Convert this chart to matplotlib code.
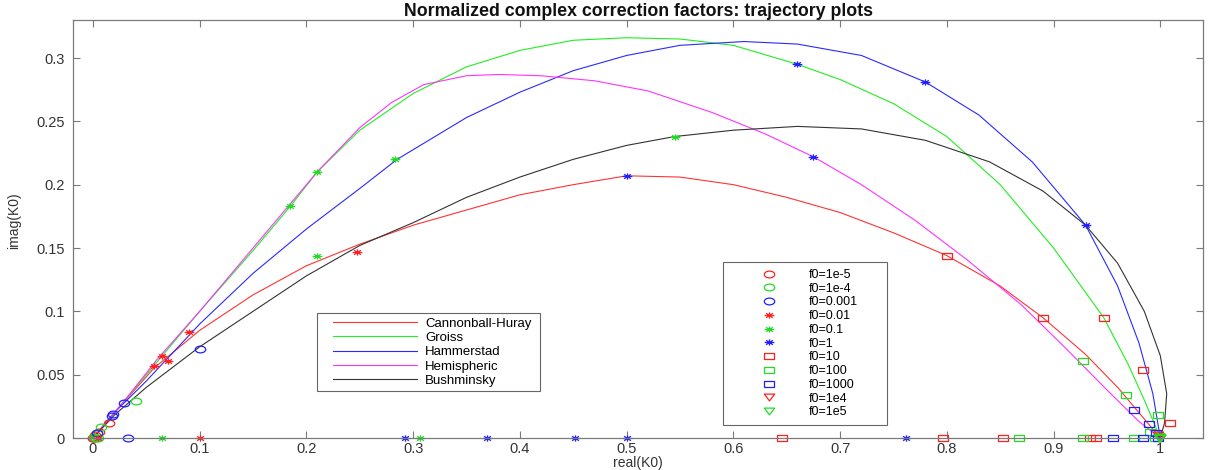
import matplotlib
matplotlib.use("Agg")
import matplotlib.pyplot as plt
import numpy as np
from matplotlib.path import Path
from matplotlib.legend_handler import HandlerLine2D

plt.rcParams['font.family'] = ['Liberation Sans', 'DejaVu Sans']

# ---- model trajectories (real, imag) ----
cannon_x = [0, 0.02, 0.057, 0.1, 0.15, 0.2, 0.25, 0.3, 0.35, 0.4, 0.45, 0.5, 0.55, 0.6, 0.65, 0.7, 0.75, 0.8, 0.85, 0.89, 0.93, 0.96, 0.98, 1.0]
cannon_y = [0, 0.02, 0.055, 0.085, 0.113, 0.136, 0.153, 0.168, 0.18, 0.192, 0.2, 0.207, 0.206, 0.2, 0.19, 0.178, 0.162, 0.144, 0.12, 0.095, 0.066, 0.04, 0.02, 0.0]

groiss_x = [0, 0.01, 0.03, 0.06, 0.1, 0.15, 0.185, 0.21, 0.25, 0.3, 0.35, 0.4, 0.45, 0.5, 0.55, 0.6, 0.66, 0.7, 0.75, 0.8, 0.85, 0.9, 0.947, 0.97, 0.985, 1.0]
groiss_y = [0, 0.01, 0.03, 0.06, 0.1, 0.148, 0.183, 0.21, 0.243, 0.272, 0.293, 0.306, 0.314, 0.316, 0.315, 0.31, 0.295, 0.283, 0.264, 0.238, 0.2, 0.15, 0.095, 0.058, 0.03, 0.0]

hammer_x = [0, 0.02, 0.05, 0.1, 0.15, 0.2, 0.25, 0.285, 0.35, 0.4, 0.45, 0.5, 0.55, 0.61, 0.66, 0.72, 0.78, 0.83, 0.88, 0.93, 0.96, 0.98, 0.993, 1.0]
hammer_y = [0, 0.02, 0.045, 0.09, 0.13, 0.165, 0.197, 0.22, 0.253, 0.273, 0.29, 0.302, 0.31, 0.313, 0.311, 0.302, 0.281, 0.255, 0.218, 0.168, 0.12, 0.075, 0.035, 0.0]

hemi_x = [0, 0.03, 0.06, 0.1, 0.15, 0.185, 0.21, 0.25, 0.28, 0.31, 0.35, 0.38, 0.42, 0.47, 0.52, 0.58, 0.63, 0.675, 0.72, 0.77, 0.82, 0.87, 0.91, 0.95, 0.98, 1.0]
hemi_y = [0, 0.03, 0.062, 0.1, 0.15, 0.185, 0.21, 0.245, 0.265, 0.279, 0.286, 0.287, 0.286, 0.282, 0.274, 0.257, 0.24, 0.222, 0.2, 0.172, 0.14, 0.105, 0.072, 0.038, 0.013, 0.0]

bush_x = [0, 0.02, 0.05, 0.1, 0.15, 0.2, 0.25, 0.3, 0.35, 0.4, 0.45, 0.5, 0.545, 0.6, 0.66, 0.72, 0.78, 0.84, 0.89, 0.93, 0.96, 0.985, 1.0, 1.006, 1.004, 1.0]
bush_y = [0, 0.018, 0.04, 0.072, 0.1, 0.128, 0.152, 0.17, 0.19, 0.206, 0.22, 0.231, 0.238, 0.243, 0.246, 0.244, 0.235, 0.218, 0.195, 0.168, 0.138, 0.1, 0.065, 0.035, 0.012, 0.0]

model_names = ['Cannonball-Huray', 'Groiss', 'Hammerstad', 'Hemispheric', 'Bushminsky']
model_colors = ['#ff3333', '#22ee22', '#2a2aff', '#ff33ff', '#333333']

# ---- markers for each f0 ----
f0_labels = ['f0=1e-5', 'f0=1e-4', 'f0=0.001', 'f0=0.01', 'f0=0.1', 'f0=1',
             'f0=10', 'f0=100', 'f0=1000', 'f0=1e4', 'f0=1e5']
f0_shapes = ['o', 'o', 'o', '*', '*', '*', 's', 's', 's', 'v', 'v']
f0_colors = ['#ff2020', '#22dd22', '#2020ff', '#ff2020', '#22dd22', '#2020ff',
             '#ff2020', '#22dd22', '#2020ff', '#ff2020', '#22dd22']

f0_x = [
    [0.0, 0.002, 0.006, 0.015, 0.001, 0.0],
    [0.001, 0.004, 0.008, 0.04, 0.003, 0.005],
    [0.004, 0.018, 0.019, 0.029, 0.1, 0.033],
    [0.057, 0.065, 0.07, 0.09, 0.247, 0.1, 0.005],
    [0.185, 0.21, 0.21, 0.283, 0.545, 0.065, 0.306],
    [0.5, 0.66, 0.675, 0.78, 0.93, 0.292, 0.369, 0.452, 0.5, 0.762],
    [0.8, 0.89, 0.947, 0.984, 1.009, 0.646, 0.796, 0.853, 0.934, 0.94],
    [0.928, 0.968, 0.998, 0.99, 0.868, 0.928, 0.975, 0.995],
    [0.975, 0.989, 0.996, 0.956, 0.984, 0.998],
    [0.998, 1.0, 0.999, 1.0],
    [1.0, 0.999, 1.0, 1.0],
]
f0_y = [
    [0.0, 0.002, 0.005, 0.012, 0.0, 0.0],
    [0.001, 0.004, 0.009, 0.029, 0.0, 0.0],
    [0.004, 0.017, 0.019, 0.028, 0.07, 0.0],
    [0.057, 0.065, 0.061, 0.084, 0.147, 0.0, 0.0],
    [0.183, 0.21, 0.144, 0.22, 0.238, 0.0, 0.0],
    [0.207, 0.295, 0.222, 0.281, 0.168, 0.0, 0.0, 0.0, 0.0, 0.0],
    [0.144, 0.095, 0.095, 0.054, 0.012, 0.0, 0.0, 0.0, 0.0, 0.0],
    [0.061, 0.034, 0.018, 0.005, 0.0, 0.0, 0.0, 0.0],
    [0.022, 0.011, 0.004, 0.0, 0.0, 0.0],
    [0.002, 0.0, 0.001, 0.0],
    [0.001, 0.0, 0.0, 0.0],
]

x_ticks = [0, 0.1, 0.2, 0.3, 0.4, 0.5, 0.6, 0.7, 0.8, 0.9, 1]
x_ticklabels = ['0', '0.1', '0.2', '0.3', '0.4', '0.5', '0.6', '0.7', '0.8', '0.9', '1']
y_ticks = [0, 0.05, 0.1, 0.15, 0.2, 0.25, 0.3]
y_ticklabels = ['0', '0.05', '0.1', '0.15', '0.2', '0.25', '0.3']

# ---- horizontally stretched marker shapes (as in the reference) ----
asp = 0.65
_c = Path.unit_circle()
m_circle = Path(_c.vertices * np.array([1.0, asp]), _c.codes)
m_square = Path([(-1, -asp), (1, -asp), (1, asp), (-1, asp), (-1, -asp)],
                [Path.MOVETO, Path.LINETO, Path.LINETO, Path.LINETO, Path.CLOSEPOLY])
m_tri = Path([(-1, asp), (1, asp), (0, -asp), (-1, asp)],
             [Path.MOVETO, Path.LINETO, Path.LINETO, Path.CLOSEPOLY])
m_ast = Path([(-1, 0), (1, 0), (0, -asp), (0, asp),
              (-0.7, -0.7 * asp), (0.7, 0.7 * asp), (-0.7, 0.7 * asp), (0.7, -0.7 * asp)],
             [Path.MOVETO, Path.LINETO] * 4)
shape_map = {'o': (m_circle, 7.5), 's': (m_square, 7.0), 'v': (m_tri, 7.5), '*': (m_ast, 7.0)}


class LeftPadLine(HandlerLine2D):
    """Legend line that starts a little inside its handle box."""
    def __init__(self, lpad, **kw):
        super().__init__(**kw)
        self.lpad = lpad

    def create_artists(self, legend, orig_handle, xdescent, ydescent, width, height, fontsize, trans):
        return super().create_artists(legend, orig_handle, xdescent - self.lpad, ydescent,
                                      width - self.lpad, height, fontsize, trans)


fig = plt.figure(figsize=(12.2, 4.7), dpi=100)
ax = fig.add_axes([73 / 1220, 1 - 438 / 470, (1203 - 73) / 1220, (438 - 20) / 470])

model_xs = [cannon_x, groiss_x, hammer_x, hemi_x, bush_x]
model_ys = [cannon_y, groiss_y, hammer_y, hemi_y, bush_y]
model_handles = []
for mx, my, c, name in zip(model_xs, model_ys, model_colors, model_names):
    h, = ax.plot(mx, my, color=c, lw=0.8, label=name)
    model_handles.append(h)

marker_handles = []
for mx, my, s, c, lab in zip(f0_x, f0_y, f0_shapes, f0_colors, f0_labels):
    path, ms = shape_map[s]
    h, = ax.plot(mx, my, linestyle='none', marker=path, mfc='none',
                 mec=c, ms=ms, mew=0.9, label=lab, clip_on=False)
    marker_handles.append(h)

ax.set_xlim(-0.0187, 1.04)
ax.set_ylim(0, 0.33)
ax.set_xticks(x_ticks)
ax.set_xticklabels(x_ticklabels)
ax.set_yticks(y_ticks)
ax.set_yticklabels(y_ticklabels)
gray = '#7a7a7a'
for s in ax.spines.values():
    s.set_color(gray)
    s.set_linewidth(0.9)
ax.tick_params(direction='in', length=5, width=0.8, colors=gray, labelcolor='#333333',
               labelsize=10.5, top=True, right=True)
ax.tick_params(axis='x', pad=3)
ax.tick_params(axis='y', pad=6)
ax.set_xlabel('real(K0)', fontsize=10, color='#333333')
ax.xaxis.set_label_coords(0.5, -0.043)
ax.set_ylabel('imag(K0)', fontsize=10, color='#333333')
ax.yaxis.set_label_coords(-0.046, 0.52)
ax.set_title('Normalized complex correction factors: trajectory plots',
             fontsize=12.8, fontweight='bold', color='#111111', pad=3)

leg1 = ax.legend(handles=model_handles, loc='upper left',
                 bbox_to_anchor=(317 / 1220, 1 - 392 / 470, (540 - 317) / 1220, (392 - 313) / 470),
                 bbox_transform=fig.transFigure, mode='expand', fontsize=9.5,
                 handlelength=7.25, handletextpad=0.6, borderpad=0.33, labelspacing=0.16,
                 borderaxespad=0, fancybox=False, framealpha=1, edgecolor='#666666',
                 handler_map={h: LeftPadLine(8.4) for h in model_handles})
leg1.get_frame().set_linewidth(0.8)
ax.add_artist(leg1)

leg2 = ax.legend(handles=marker_handles, loc='upper left',
                 bbox_to_anchor=(723 / 1220, 1 - 420 / 470, (887 - 723) / 1220, (420 - 262) / 470),
                 bbox_transform=fig.transFigure, mode='expand', fontsize=9,
                 handlelength=6.3, handletextpad=0.0, borderpad=0.55, labelspacing=0.14,
                 borderaxespad=0, fancybox=False, framealpha=1, edgecolor='#666666', numpoints=1)
leg2.get_frame().set_linewidth(0.8)

fig.savefig('out.png', dpi=100)
